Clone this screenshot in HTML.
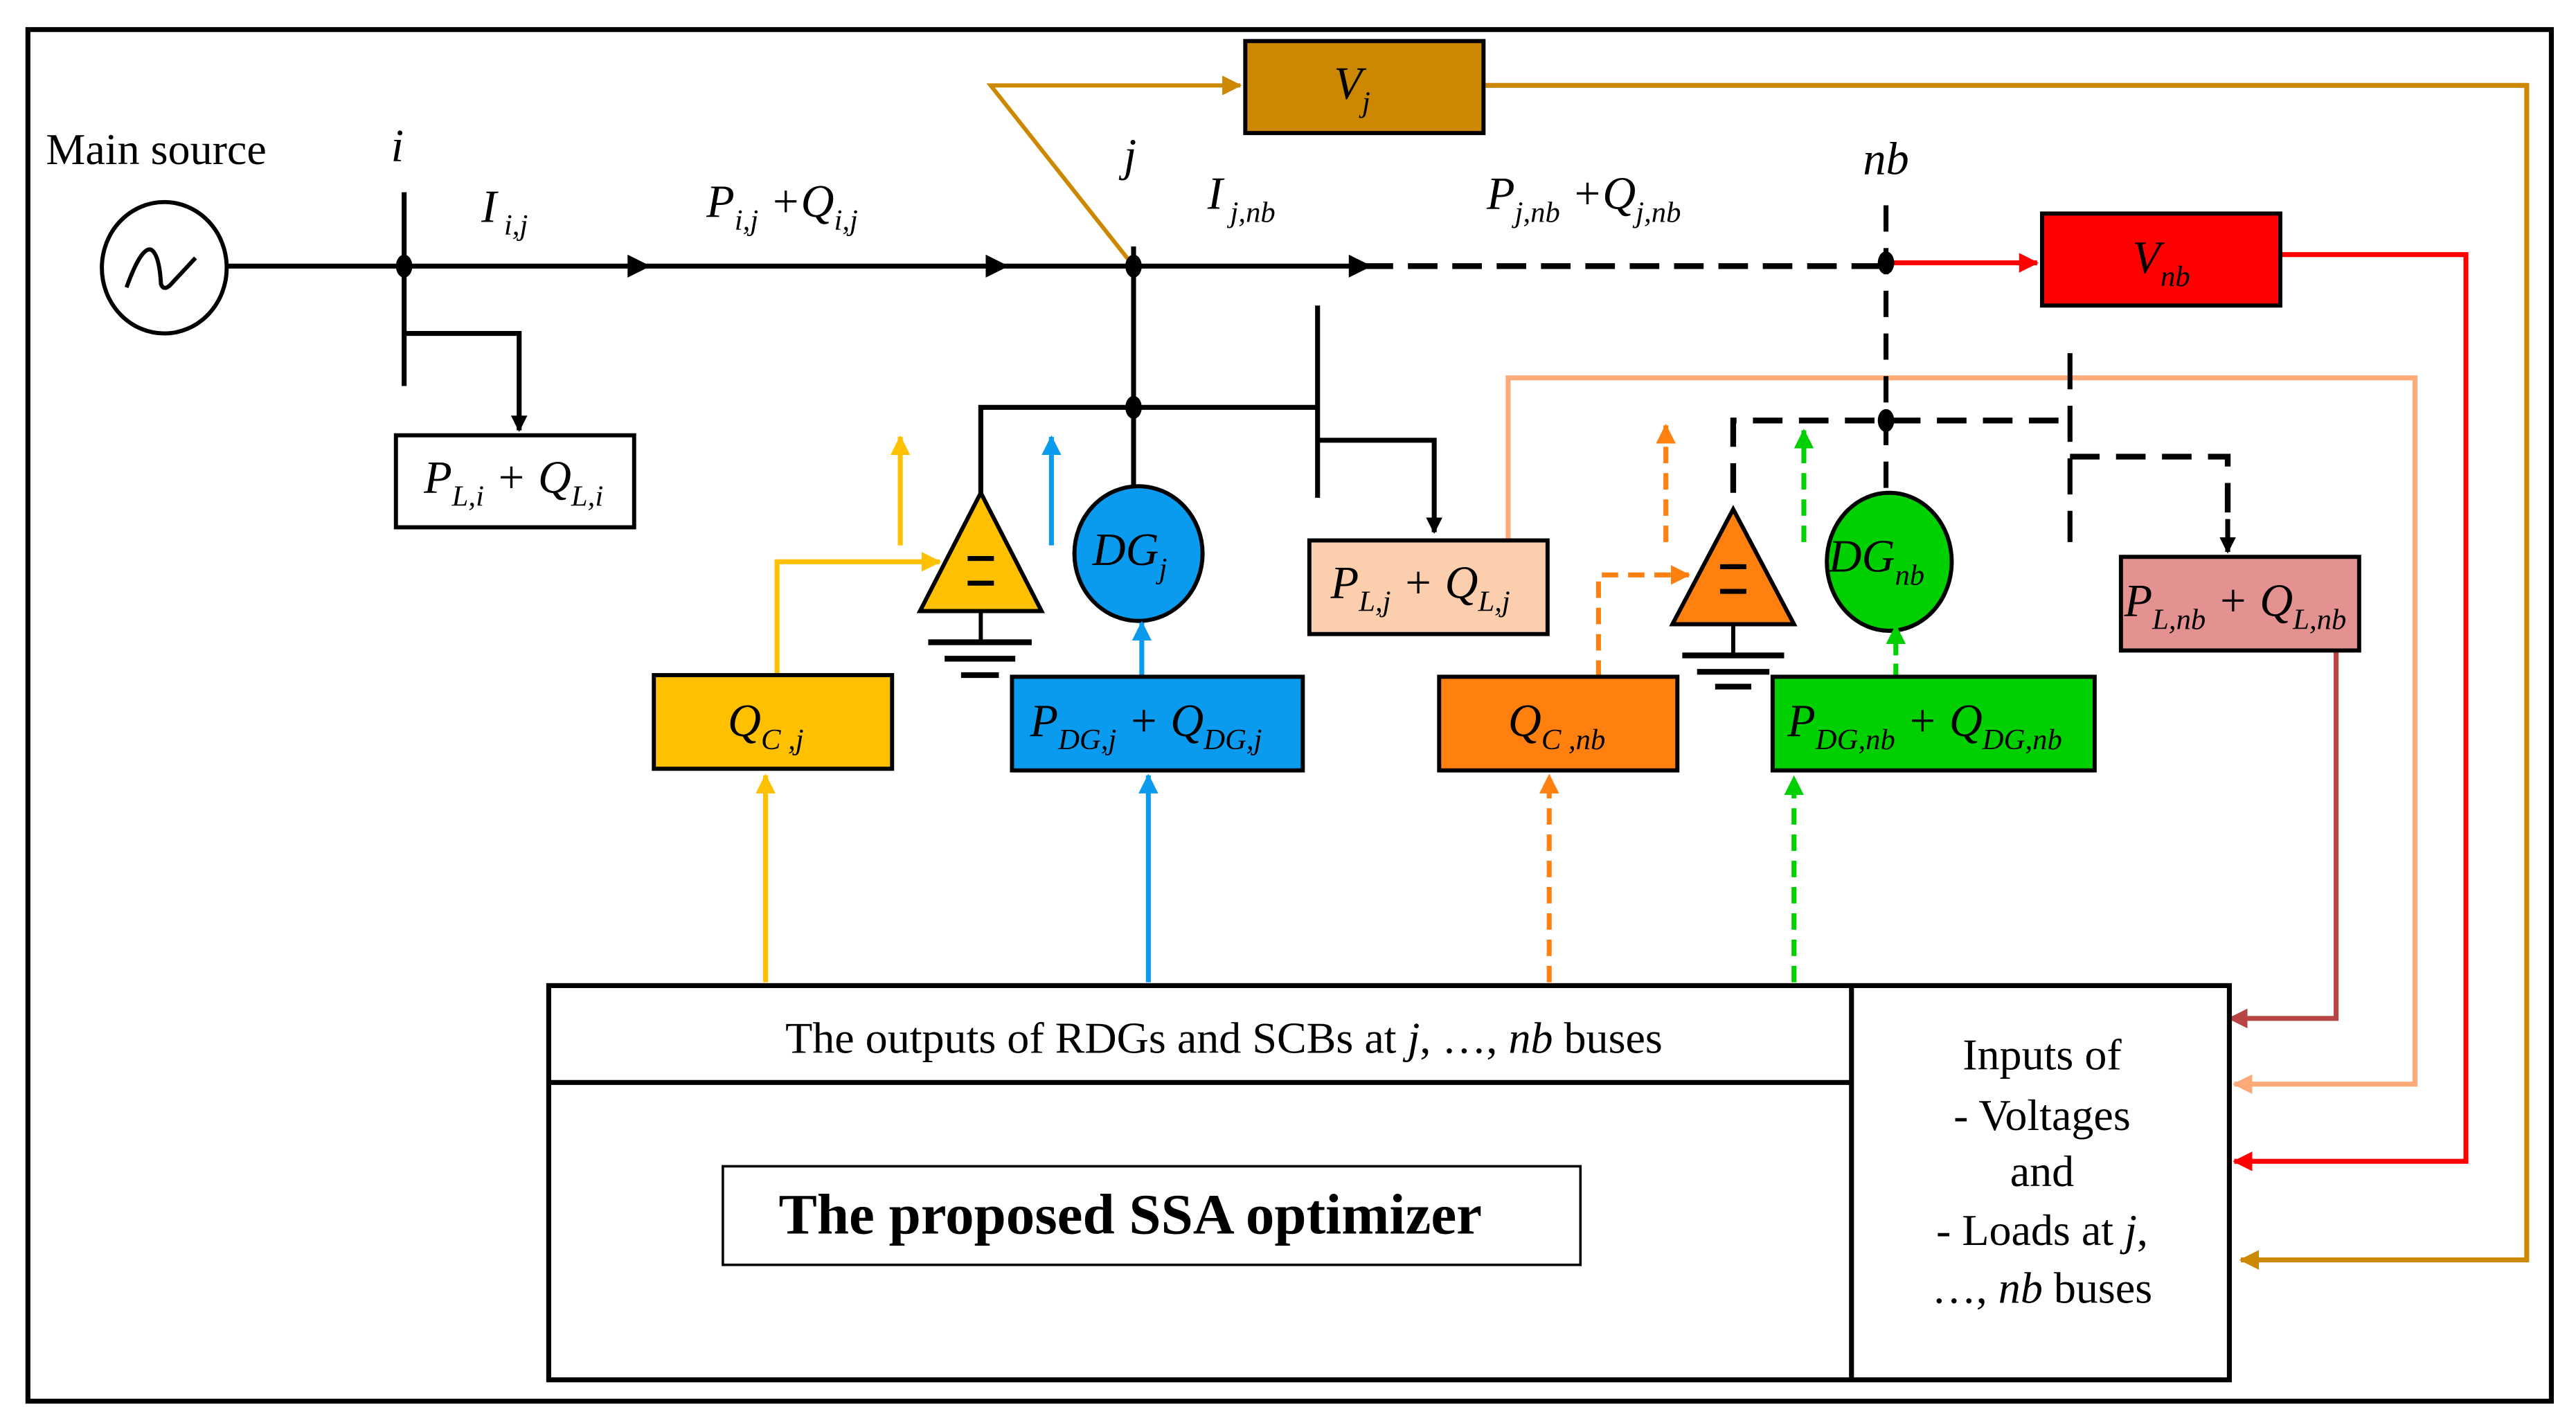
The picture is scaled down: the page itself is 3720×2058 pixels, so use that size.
<!DOCTYPE html>
<html><head><meta charset="utf-8"><style>
html,body{margin:0;padding:0;background:#fff;width:3720px;height:2058px;overflow:hidden}
svg{display:block;font-family:"Liberation Serif","DejaVu Serif",serif}
svg text, svg tspan{font-family:"Liberation Serif","DejaVu Serif",serif}
.m{font-style:italic;font-size:28px}
.s{font-size:18px}
</style></head><body>
<svg width="3720" height="2058" viewBox="0 0 1568 867.5" preserveAspectRatio="none">
<defs>
<marker id="ak" markerWidth="10" markerHeight="10" refX="9" refY="5" orient="auto" markerUnits="userSpaceOnUse"><path d="M0,0 L10,5 L0,10 z" fill="#000"/></marker>
<marker id="ay" markerWidth="12" markerHeight="12" refX="11" refY="6" orient="auto" markerUnits="userSpaceOnUse"><path d="M0,0 L12,6 L0,12 z" fill="#FFC000"/></marker>
<marker id="ab" markerWidth="12" markerHeight="12" refX="11" refY="6" orient="auto" markerUnits="userSpaceOnUse"><path d="M0,0 L12,6 L0,12 z" fill="#0A9BEF"/></marker>
<marker id="ao" markerWidth="12" markerHeight="12" refX="11" refY="6" orient="auto" markerUnits="userSpaceOnUse"><path d="M0,0 L12,6 L0,12 z" fill="#FF7F0F"/></marker>
<marker id="ag" markerWidth="12" markerHeight="12" refX="11" refY="6" orient="auto" markerUnits="userSpaceOnUse"><path d="M0,0 L12,6 L0,12 z" fill="#00D000"/></marker>
<marker id="agd" markerWidth="12" markerHeight="12" refX="11" refY="6" orient="auto" markerUnits="userSpaceOnUse"><path d="M0,0 L12,6 L0,12 z" fill="#CC8800"/></marker>
<marker id="ar" markerWidth="12" markerHeight="12" refX="11" refY="6" orient="auto" markerUnits="userSpaceOnUse"><path d="M0,0 L12,6 L0,12 z" fill="#FF0000"/></marker>
<marker id="ap" markerWidth="12" markerHeight="12" refX="11" refY="6" orient="auto" markerUnits="userSpaceOnUse"><path d="M0,0 L12,6 L0,12 z" fill="#FBAA78"/></marker>
<marker id="abr" markerWidth="12" markerHeight="12" refX="11" refY="6" orient="auto" markerUnits="userSpaceOnUse"><path d="M0,0 L12,6 L0,12 z" fill="#B84444"/></marker>
</defs>
<rect x="17" y="18" width="1536" height="835" fill="none" stroke="#000" stroke-width="3"/>

<polyline points="903,52 1538,52 1538,767 1364,767" fill="none" stroke="#CC8800" stroke-width="3" marker-end="url(#agd)"/>
<polyline points="690,162 603,52 755,52" fill="none" stroke="#CC8800" stroke-width="2.5" marker-end="url(#agd)"/>
<polyline points="1388,155 1501,155 1501,707 1360,707" fill="none" stroke="#FF0000" stroke-width="3" marker-end="url(#ar)"/>
<polyline points="1150,160 1240,160" fill="none" stroke="#FF0000" stroke-width="3" marker-end="url(#ar)"/>
<polyline points="918,329 918,230 1470,230 1470,660 1360,660" fill="none" stroke="#FBAA78" stroke-width="3" marker-end="url(#ap)"/>
<polyline points="1422,396 1422,620 1357,620" fill="none" stroke="#B84444" stroke-width="3" marker-end="url(#abr)"/>

<text x="28" y="100" font-size="27">Main source</text>
<ellipse cx="100" cy="163" rx="38" ry="40" fill="#fff" stroke="#000" stroke-width="2.5"/>
<path d="M77,175 Q86,150 92,152 Q97,155 98,173 Q100,178 105,172 L119,157" fill="none" stroke="#000" stroke-width="2.5"/>
<line x1="138" y1="162" x2="830" y2="162" stroke="#000" stroke-width="3"/>
<line x1="830" y1="162" x2="1148" y2="162" stroke="#000" stroke-width="3.5" stroke-dasharray="18,9"/>
<path d="M382,155 L396,162 L382,169z M600,155 L614,162 L600,169z M821,155 L835,162 L821,169z" fill="#000"/>
<line x1="246" y1="117" x2="246" y2="235" stroke="#000" stroke-width="3"/>
<ellipse cx="246" cy="162" rx="5" ry="7"/>
<polyline points="246,203 316,203 316,262" fill="none" stroke="#000" stroke-width="3" marker-end="url(#ak)"/>
<rect x="241" y="265" width="145" height="56" fill="#fff" stroke="#000" stroke-width="2.5"/>
<text class="m" x="258" y="300">P<tspan class="s" dy="8">L,i</tspan><tspan dy="-8"> + Q</tspan><tspan class="s" dy="8">L,i</tspan></text>

<text class="m" x="238" y="98">i</text>
<text class="m" x="293" y="135">I<tspan class="s" dy="8"> i,j</tspan></text>
<text class="m" x="430" y="132">P<tspan class="s" dy="8">i,j</tspan><tspan dy="-8"> +Q</tspan><tspan class="s" dy="8">i,j</tspan></text>
<text class="m" x="684" y="104">j</text>
<text class="m" x="735" y="127">I<tspan class="s" dy="8"> j,nb</tspan></text>
<text class="m" x="905" y="127">P<tspan class="s" dy="8">j,nb</tspan><tspan dy="-8"> +Q</tspan><tspan class="s" dy="8">j,nb</tspan></text>
<text class="m" x="1134" y="106">nb</text>

<line x1="690" y1="150" x2="690" y2="298" stroke="#000" stroke-width="3"/>
<ellipse cx="690" cy="162" rx="5" ry="7"/>
<ellipse cx="690" cy="248" rx="5" ry="7"/>
<polyline points="597,300 597,248 802,248" fill="none" stroke="#000" stroke-width="3"/>
<line x1="802" y1="186" x2="802" y2="303" stroke="#000" stroke-width="3"/>
<polyline points="802,268 873,268 873,324" fill="none" stroke="#000" stroke-width="3" marker-end="url(#ak)"/>
<polygon points="597,300 560,372 634,372" fill="#FFC000" stroke="#000" stroke-width="2.5"/>
<line x1="589" y1="340" x2="605" y2="340" stroke="#000" stroke-width="3"/>
<line x1="589" y1="355" x2="605" y2="355" stroke="#000" stroke-width="3"/>
<line x1="597" y1="372" x2="597" y2="390" stroke="#000" stroke-width="2.5"/>
<line x1="565" y1="391" x2="628" y2="391" stroke="#000" stroke-width="3.5"/>
<line x1="575" y1="401" x2="618" y2="401" stroke="#000" stroke-width="3.5"/>
<line x1="585" y1="411" x2="608" y2="411" stroke="#000" stroke-width="3.5"/>
<line x1="548" y1="332" x2="548" y2="266" stroke="#FFC000" stroke-width="3" marker-end="url(#ay)"/>
<line x1="640" y1="332" x2="640" y2="266" stroke="#0A9BEF" stroke-width="3" marker-end="url(#ab)"/>
<ellipse cx="693" cy="337" rx="39" ry="41" fill="#0A9BEF" stroke="#000" stroke-width="2.5"/>
<text class="m" x="665" y="344" font-size="30">DG<tspan class="s" dy="8">j</tspan></text>
<polyline points="473,411 473,342 572,342" fill="none" stroke="#FFC000" stroke-width="3" marker-end="url(#ay)"/>
<line x1="695" y1="412" x2="695" y2="379" stroke="#0A9BEF" stroke-width="3" marker-end="url(#ab)"/>
<rect x="398" y="411" width="145" height="57" fill="#FFC000" stroke="#000" stroke-width="2.5"/>
<text class="m" x="443" y="448">Q<tspan class="s" dy="8">C ,j</tspan></text>
<rect x="616" y="412" width="177" height="57" fill="#0A9BEF" stroke="#000" stroke-width="2.5"/>
<text class="m" x="627" y="448">P<tspan class="s" dy="8">DG,j</tspan><tspan dy="-8"> + Q</tspan><tspan class="s" dy="8">DG,j</tspan></text>
<line x1="466" y1="598" x2="466" y2="472" stroke="#FFC000" stroke-width="3" marker-end="url(#ay)"/>
<line x1="699" y1="598" x2="699" y2="472" stroke="#0A9BEF" stroke-width="3" marker-end="url(#ab)"/>
<rect x="797" y="329" width="145" height="57" fill="#FBCFAE" stroke="#000" stroke-width="2.5"/>
<text class="m" x="810" y="364">P<tspan class="s" dy="8">L,j</tspan><tspan dy="-8"> + Q</tspan><tspan class="s" dy="8">L,j</tspan></text>

<rect x="758" y="25" width="145" height="56" fill="#CC8800" stroke="#000" stroke-width="2.5"/>
<text class="m" x="812" y="60">V<tspan class="s" dy="8">j</tspan></text>
<rect x="1243" y="130" width="145" height="56" fill="#FF0000" stroke="#000" stroke-width="2.5"/>
<text class="m" x="1298" y="166">V<tspan class="s" dy="8">nb</tspan></text>

<line x1="1148" y1="125" x2="1148" y2="300" stroke="#000" stroke-width="3" stroke-dasharray="16,10"/>
<ellipse cx="1148" cy="160" rx="5" ry="7"/>
<ellipse cx="1148" cy="256" rx="5" ry="7"/>
<polyline points="1055,300 1055,256 1260,256" fill="none" stroke="#000" stroke-width="3.5" stroke-dasharray="18,10"/>
<line x1="1260" y1="215" x2="1260" y2="330" stroke="#000" stroke-width="3" stroke-dasharray="22,10"/>
<polyline points="1260,278 1356,278 1356,318" fill="none" stroke="#000" stroke-width="3.5" stroke-dasharray="18,10"/>
<line x1="1356" y1="316" x2="1356" y2="336" stroke="#000" stroke-width="3" marker-end="url(#ak)"/>
<polygon points="1055,310 1018,380 1092,380" fill="#FF7F0F" stroke="#000" stroke-width="2.5"/>
<line x1="1047" y1="345" x2="1063" y2="345" stroke="#000" stroke-width="3"/>
<line x1="1047" y1="360" x2="1063" y2="360" stroke="#000" stroke-width="3"/>
<line x1="1055" y1="380" x2="1055" y2="398" stroke="#000" stroke-width="2.5"/>
<line x1="1024" y1="399" x2="1086" y2="399" stroke="#000" stroke-width="3.5"/>
<line x1="1033" y1="409" x2="1077" y2="409" stroke="#000" stroke-width="3.5"/>
<line x1="1044" y1="418" x2="1066" y2="418" stroke="#000" stroke-width="3.5"/>
<line x1="1014" y1="330" x2="1014" y2="259" stroke="#FF7F0F" stroke-width="3" stroke-dasharray="10,6" marker-end="url(#ao)"/>
<line x1="1098" y1="330" x2="1098" y2="262" stroke="#00D000" stroke-width="3" stroke-dasharray="10,6" marker-end="url(#ag)"/>
<ellipse cx="1150" cy="342" rx="38" ry="42" fill="#00D000" stroke="#000" stroke-width="2.5"/>
<text class="m" x="1113" y="348" font-size="30">DG<tspan class="s" dy="8">nb</tspan></text>
<polyline points="973,412 973,350 1028,350" fill="none" stroke="#FF7F0F" stroke-width="3" stroke-dasharray="10,6" marker-end="url(#ao)"/>
<line x1="1154" y1="412" x2="1154" y2="381" stroke="#00D000" stroke-width="3" stroke-dasharray="8,5" marker-end="url(#ag)"/>
<rect x="876" y="412" width="145" height="57" fill="#FF7F0F" stroke="#000" stroke-width="2.5"/>
<text class="m" x="918" y="448">Q<tspan class="s" dy="8">C ,nb</tspan></text>
<rect x="1079" y="412" width="196" height="57" fill="#00D000" stroke="#000" stroke-width="2.5"/>
<text class="m" x="1088" y="448">P<tspan class="s" dy="8">DG,nb</tspan><tspan dy="-8"> + Q</tspan><tspan class="s" dy="8">DG,nb</tspan></text>
<line x1="943" y1="598" x2="943" y2="472" stroke="#FF7F0F" stroke-width="3" stroke-dasharray="10,6" marker-end="url(#ao)"/>
<line x1="1092" y1="598" x2="1092" y2="473" stroke="#00D000" stroke-width="3" stroke-dasharray="10,6" marker-end="url(#ag)"/>
<rect x="1291" y="339" width="145" height="57" fill="#E39191" stroke="#000" stroke-width="2.5"/>
<text class="m" x="1293" y="375">P<tspan class="s" dy="8">L,nb</tspan><tspan dy="-8"> + Q</tspan><tspan class="s" dy="8">L,nb</tspan></text>

<rect x="334" y="600" width="1023" height="240" fill="none" stroke="#000" stroke-width="3"/>
<line x1="334" y1="659" x2="1127" y2="659" stroke="#000" stroke-width="3"/>
<line x1="1127" y1="600" x2="1127" y2="840" stroke="#000" stroke-width="3"/>
<text x="745" y="641" font-size="27" text-anchor="middle">The outputs of RDGs and SCBs at <tspan font-style="italic">j</tspan>, …, <tspan font-style="italic">nb</tspan> buses</text>
<rect x="440" y="710" width="522" height="60" fill="#fff" stroke="#000" stroke-width="1.5"/>
<text x="688" y="751" font-size="35" font-weight="bold" text-anchor="middle">The proposed SSA optimizer</text>
<g font-size="27" text-anchor="middle">
<text x="1243" y="651">Inputs of</text>
<text x="1243" y="688">- Voltages</text>
<text x="1243" y="722">and</text>
<text x="1243" y="758">- Loads at <tspan font-style="italic">j</tspan>,</text>
<text x="1243" y="793">…, <tspan font-style="italic">nb</tspan> buses</text>
</g>
</svg>
</body></html>
